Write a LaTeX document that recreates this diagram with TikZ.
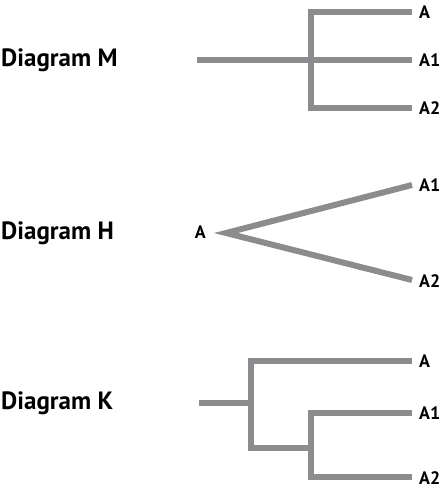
\documentclass[tikz,border=0pt]{standalone}
\usepackage{fontspec}
\setmainfont{PT Sans}
\definecolor{treegray}{RGB}{140,140,143}
\tikzset{
  branch/.style={draw=treegray,line width=6pt,line cap=butt,line join=miter},
  title/.style={anchor=west,inner sep=0pt,font=\fontsize{25}{25}\selectfont\bfseries},
  leaf/.style={anchor=west,inner sep=0pt,font=\fontsize{18}{18}\selectfont\bfseries}
}
\begin{document}
\begin{tikzpicture}[x=1pt,y=1pt]
\useasboundingbox (0,0) rectangle (446,503);

% Diagram M
\begin{scope}[yshift=443pt]
\node[title] (titlem) at (1,0) {Diagram M};
\coordinate (rootm) at (197,0);
\coordinate (nodem) at (311,0);
\node[leaf] (ma) at (419,48) {A};
\node[leaf] (ma1) at (419,0) {A1};
\node[leaf] (ma2) at (419,-48) {A2};
\coordinate (ea) at (412,48);
\coordinate (ea1) at (412,0);
\coordinate (ea2) at (412,-48);
\draw[branch] (ea) -| (nodem) |- (ea2);
\draw[branch] (rootm) -- (ea1);
\end{scope}

% Diagram H
\begin{scope}[yshift=270pt]
\node[title] (titleh) at (1,0) {Diagram H};
\node[leaf,anchor=east] (ha) at (206,1) {A};
\coordinate (apex) at (226,0);
\node[leaf] (ha1) at (419,48) {A1};
\node[leaf] (ha2) at (419,-48) {A2};
\coordinate (eh1) at (412,48);
\coordinate (eh2) at (412,-47);
\draw[branch] (eh1) -- (apex) -- (eh2);
\end{scope}

% Diagram K
\begin{scope}[yshift=100pt]
\node[title] (titlek) at (1,0) {Diagram K};
\coordinate (rootk) at (199,0);
\coordinate (outer) at (251,0);
\coordinate (inner) at (311,-45);
\node[leaf] (ka) at (419,42) {A};
\node[leaf] (ka1) at (419,-10) {A1};
\node[leaf] (ka2) at (419,-75) {A2};
\coordinate (ka0) at (412,42);
\coordinate (ka10) at (412,-10);
\coordinate (ka20) at (412,-74);
\draw[branch] (rootk) -- (outer);
\draw[branch] (ka0) -| (outer) |- (inner);
\draw[branch] (ka10) -| (inner) |- (ka20);
\end{scope}

\end{tikzpicture}
\end{document}
